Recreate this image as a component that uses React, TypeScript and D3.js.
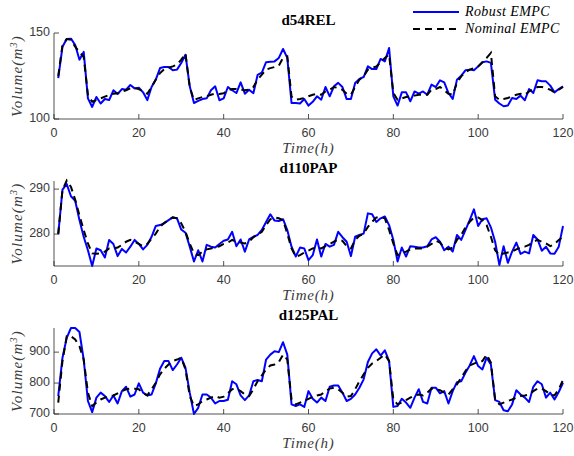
import * as d3 from 'd3';

// hourly samples t = 1..120
const hours = d3.range(1, 121);
const xTicks = [0, 20, 40, 60, 80, 100, 120];

const robust54 = [
  123.8, 142, 146.5, 146.7, 143, 134.5, 139, 112, 107, 112.8,
  109, 111.6, 111, 116.7, 114.5, 117.4, 117, 119.8, 117.8, 118.2,
  115.5, 111, 118.6, 122.9, 129.6, 130.2, 130.2, 128.3, 128.7, 132.6,
  137.4, 119, 109.3, 110.5, 111.6, 112, 116.7, 119, 110.9, 112,
  118.6, 116.7, 115.1, 121.3, 114.7, 117, 115, 125.6, 127, 133,
  133.3, 133.5, 135.5, 140.7, 135.5, 109.3, 109.3, 109, 111.6, 107.8,
  110, 113.2, 111.2, 118.6, 113.2, 119, 121, 118.6, 111.6, 111.6,
  121, 123.3, 124.4, 130.6, 129, 129, 134.9, 133.5, 141.3, 113.2,
  107.8, 115.5, 115.5, 110.3, 116, 114.7, 116, 114.1, 120, 118.6,
  122.5, 121.3, 115.1, 111.6, 122.9, 125.2, 128.3, 128.7, 128.3, 130.6,
  133, 133.5, 132.6, 111.2, 109, 107.4, 107.8, 112.2, 111.6, 113.6,
  110.9, 117.4, 115.1, 122.5, 121.9, 121.9, 119.4, 115.5, 117.4, 119,
];
const nominal54 = [
  125, 143, 146.5, 146, 142, 139, 136, 114, 110, 111,
  112, 113, 114, 114.7, 115, 116, 116.7, 117.8, 118, 117.4,
  116, 114.7, 118.6, 122.9, 126.7, 129, 129.8, 130.6, 131.6, 134.5,
  138, 118.6, 111, 112, 112.8, 113.2, 114.1, 114.7, 114.5, 115,
  116.7, 117.4, 117.4, 117, 116.7, 117, 118.6, 122.9, 125.8, 128.7,
  129.6, 130.2, 131, 135.5, 136.4, 113, 111.2, 111.6, 112.2, 113.2,
  114.1, 114.7, 114.1, 116, 117, 118.6, 118, 117, 114.7, 114.1,
  118.6, 122.9, 124.8, 128.7, 129.6, 130.6, 133, 135.5, 137.4, 115.1,
  111.2, 112, 112.8, 113.2, 113.6, 114.1, 114, 114.1, 117, 117.4,
  118.6, 116.7, 114.7, 114.1, 121, 124.8, 127.1, 128.7, 129.6, 130.6,
  133, 135.5, 138.4, 113.2, 111.2, 111.6, 112.2, 113.2, 114.1, 114.7,
  114.1, 116, 117.4, 118.6, 118.6, 118, 117, 115.5, 117, 118.6,
];

const robust110 = [
  280, 289.9, 291.1, 288.4, 287.4, 283.1, 279.4, 276.4, 272.9, 276.8,
  276.4, 274.8, 278.7, 277.8, 275.1, 276.7, 275.9, 277.2, 278.7, 277.8,
  276.6, 277.6, 279.4, 281.8, 282, 282.4, 283.1, 283.7, 283.5, 281,
  280.3, 277.2, 273.9, 276.4, 273.9, 277.6, 277.2, 277, 277.8, 278.5,
  278.8, 280.5, 277.3, 278.8, 276.1, 278.8, 279.4, 279.8, 280.9, 282.7,
  284.4, 283, 282.9, 283.3, 280.9, 277.2, 275, 277, 276.8, 274.2,
  275.3, 278.8, 275, 277.8, 277.2, 277.6, 280.5, 279.3, 278.3, 275.1,
  279.4, 279.8, 280.1, 284.6, 284.4, 282.7, 283.5, 283.9, 282, 278.7,
  273.9, 277, 275, 277.3, 277.2, 277, 277, 277.3, 278.8, 279.3,
  278.3, 276.4, 277.2, 276.1, 279.8, 278.7, 280.9, 283.1, 285.5, 281.8,
  283.3, 283.5, 281.5, 278.3, 273.1, 277.3, 273.6, 276.1, 278.1, 275.6,
  276.1, 275.7, 279.8, 278.8, 276.3, 277.2, 275.7, 275.6, 277.2, 281.8,
];
const nominal110 = [
  280, 289.8, 291.9, 290.5, 287.6, 284.2, 280.9, 277.9, 275.7, 275.6,
  275.7, 276.1, 276.8, 276.8, 277, 277.6, 278.3, 278.7, 278.3, 277.8,
  277.3, 277.8, 279, 280.1, 281.6, 282.5, 283.1, 283.7, 283.5, 282.4,
  280.5, 277.9, 275.7, 275.3, 276.1, 276.6, 276.8, 277, 277.3, 277.8,
  278.1, 278.7, 278.3, 278.1, 277.9, 278.3, 279.3, 279.8, 280.5, 282,
  283.3, 283.7, 283.5, 283.1, 280.1, 276.8, 275, 275.3, 275.9, 276.3,
  276.8, 277, 276.8, 277.3, 277.8, 278.3, 278.8, 278.5, 277.3, 276.8,
  278.7, 279.6, 280.1, 281.6, 282.7, 283.7, 283.7, 283.5, 280.9, 277.9,
  275.3, 275.7, 276.1, 276.6, 276.8, 276.8, 276.8, 277.2, 277.8, 278.5,
  278.1, 277, 276.6, 277, 278.7, 279.8, 281.5, 282.7, 283.7, 283.7,
  283.1, 282, 279.4, 276.4, 275.3, 275.7, 275.9, 276.1, 276.6, 277,
  277.2, 277.6, 278.3, 278.7, 278.3, 277.9, 277.3, 277.8, 278.7, 279.4,
];

const robust125 = [
  758, 882, 946, 978, 978, 965, 876, 742, 706, 753,
  769, 758, 739, 760, 734, 774, 788, 756, 763, 799,
  769, 760, 763, 799, 846, 871, 871, 842, 860, 882,
  849, 769, 700, 720, 763, 763, 753, 734, 742, 742,
  746, 806, 796, 760, 745, 760, 806, 810, 806, 876,
  892, 903, 900, 932, 892, 731, 726, 731, 723, 774,
  749, 737, 753, 742, 788, 792, 792, 769, 742, 749,
  763, 785, 812, 868, 896, 909, 889, 906, 871, 723,
  726, 749, 737, 720, 753, 780, 739, 734, 785, 785,
  767, 774, 734, 774, 803, 806, 833, 857, 887, 855,
  844, 882, 860, 745, 739, 712, 709, 731, 777, 763,
  753, 739, 788, 806, 796, 753, 769, 747, 771, 801,
];
const nominal125 = [
  737, 871, 951, 951, 941, 919, 876, 769, 726, 737,
  747, 753, 758, 760, 767, 774, 780, 782, 782, 780,
  767, 760, 780, 801, 828, 846, 860, 871, 876, 882,
  844, 758, 726, 731, 742, 747, 753, 758, 753, 756,
  767, 780, 782, 774, 763, 758, 780, 806, 825, 844,
  857, 860, 868, 892, 876, 747, 731, 737, 742, 749,
  756, 760, 763, 774, 782, 785, 780, 769, 756, 758,
  780, 806, 828, 849, 863, 871, 882, 892, 871, 747,
  731, 737, 745, 753, 760, 763, 760, 769, 782, 780,
  777, 769, 763, 780, 796, 817, 839, 857, 863, 868,
  871, 892, 866, 747, 731, 737, 742, 747, 753, 758,
  760, 763, 774, 782, 782, 774, 763, 760, 780, 810,
];

const panels = [
  { title: 'd54REL', robust: robust54, nominal: nominal54, domain: [100, 150], ticks: [100, 150], top: 33, bottom: 119 },
  { title: 'd110PAP', robust: robust110, nominal: nominal110, domain: [272.9, 291.8], ticks: [280, 290], top: 181, bottom: 266 },
  { title: 'd125PAL', robust: robust125, nominal: nominal125, domain: [700, 978], ticks: [700, 800, 900], top: 328, bottom: 414 },
];

const LEFT = 54;
const RIGHT = 563;
const AXIS = '#262626';
const LABEL = '#3a3a3a';
const TICK_FONT = '"Liberation Sans", Arial, sans-serif';
const SERIF = '"Liberation Serif", "Times New Roman", serif';
const DASH = '7,5';

const x = d3.scaleLinear().domain([0, 120]).range([LEFT, RIGHT]);

const Panel = ({ p }) => {
  const y = d3.scaleLinear().domain(p.domain).range([p.bottom, p.top]);
  const line = d3.line<number>().x((_, i) => x(hours[i])).y((d) => y(d));
  const mid = (p.top + p.bottom) / 2;
  return (
    <g>
      <path d={line(p.robust) ?? ''} fill="none" stroke="#0000ff" strokeWidth={2} strokeLinejoin="round" />
      <path d={line(p.nominal) ?? ''} fill="none" stroke="#000" strokeWidth={2} strokeDasharray={DASH} />
      {/* axes, box off */}
      <line x1={LEFT} x2={LEFT} y1={p.top} y2={p.bottom} stroke={AXIS} strokeWidth={0.8} />
      <line x1={LEFT} x2={RIGHT} y1={p.bottom} y2={p.bottom} stroke={AXIS} strokeWidth={0.8} />
      {xTicks.map((t) => (
        <g key={t}>
          <line x1={x(t)} x2={x(t)} y1={p.bottom} y2={p.bottom - 5} stroke={AXIS} strokeWidth={0.8} />
          <text x={x(t)} y={p.bottom + 18} textAnchor="middle" fontSize={12.5} fontFamily={TICK_FONT} fill={LABEL}>
            {t}
          </text>
        </g>
      ))}
      {p.ticks.map((t) => (
        <g key={t}>
          <line x1={LEFT} x2={LEFT + 5} y1={y(t)} y2={y(t)} stroke={AXIS} strokeWidth={0.8} />
          <text x={LEFT - 4} y={y(t)} textAnchor="end" dominantBaseline="middle" fontSize={12.5} fontFamily={TICK_FONT} fill={LABEL}>
            {t}
          </text>
        </g>
      ))}
      <text x={(LEFT + RIGHT) / 2} y={p.top - 8} textAnchor="middle" fontSize={15} fontWeight="bold" fontFamily={SERIF}>
        {p.title}
      </text>
      <text x={(LEFT + RIGHT) / 2} y={p.bottom + 34} textAnchor="middle" fontSize={15} fontStyle="italic" fontFamily={SERIF} letterSpacing={0.8} fill={LABEL}>
        Time(h)
      </text>
      <text transform={`translate(22,${mid}) rotate(-90)`} textAnchor="middle" fontSize={15} fontStyle="italic" fontFamily={SERIF} letterSpacing={1.2} fill={LABEL}>
        <tspan>Volume(m</tspan>
        <tspan dy={-5} fontSize={10}>3</tspan>
        <tspan dy={5}>)</tspan>
      </text>
    </g>
  );
};

export default function App() {
  return (
    <svg width={574} height={456} style={{ position: 'absolute', left: 0, top: 0, background: '#fff' }}>
      {panels.map((p) => (
        <Panel key={p.title} p={p} />
      ))}
      {/* legend */}
      <line x1={413} x2={459} y1={12} y2={12} stroke="#0000ff" strokeWidth={2} />
      <text x={465} y={16} fontSize={14} fontStyle="italic" fontFamily={SERIF} letterSpacing={0.4}>Robust EMPC</text>
      <line x1={413} x2={459} y1={29} y2={29} stroke="#000" strokeWidth={2} strokeDasharray={DASH} />
      <text x={465} y={33} fontSize={14} fontStyle="italic" fontFamily={SERIF} letterSpacing={0.4}>Nominal EMPC</text>
    </svg>
  );
}
